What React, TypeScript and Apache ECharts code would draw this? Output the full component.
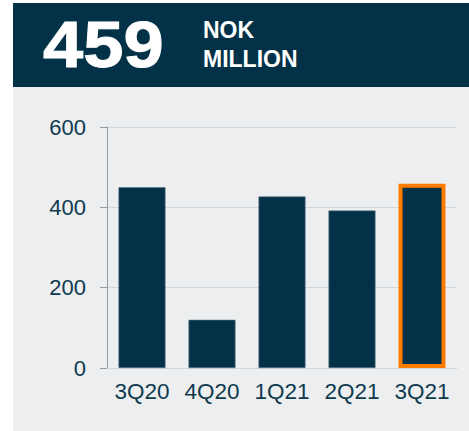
import React, { useEffect, useRef } from "react";
import * as echarts from "echarts";

const categories = ["3Q20", "4Q20", "1Q21", "2Q21", "3Q21"];
const values = [450, 120, 427, 392, 459];
const yTicks = { min: 0, max: 600, interval: 200 };
const headlineValue = "459";
const headlineUnit = ["NOK", "MILLION"];
const highlightIndex = 4;

export default function App() {
  const ref = useRef<HTMLDivElement>(null);
  useEffect(() => {
    if (!ref.current) return;
    const chart = echarts.init(ref.current, undefined, { renderer: "svg" });
    const dark = "#033248";
    chart.setOption({
      animation: false,
      backgroundColor: "#ffffff",
      graphic: [
        { type: "rect", z: -10, shape: { x: 13, y: 87, width: 456, height: 344 }, style: { fill: "#EDEEF0" } },
        { type: "rect", z: -10, shape: { x: 13, y: 3, width: 456, height: 84 }, style: { fill: dark } },
        {
          type: "text", x: 43, y: 12, scaleX: 1.13,
          style: { text: headlineValue, fill: "#fff", font: "bold 64px 'Liberation Sans', Arial, sans-serif", stroke: "#fff", lineWidth: 1 },
        },
        {
          type: "text", x: 203, y: 18,
          style: { text: headlineUnit[0], fill: "#fff", font: "bold 23px 'Liberation Sans', Arial, sans-serif" },
        },
        {
          type: "text", x: 203, y: 47,
          style: { text: headlineUnit[1], fill: "#fff", font: "bold 23px 'Liberation Sans', Arial, sans-serif" },
        },
      ],
      grid: { left: 107, right: 12, top: 127, bottom: 63, containLabel: false },
      xAxis: {
        type: "category",
        data: categories,
        axisLine: { show: true, lineStyle: { color: "#D3D6DA", width: 1 } },
        axisTick: { show: false },
        axisLabel: {
          interval: 0, hideOverlap: false,
          color: "#0F3A4E", fontSize: 22.5, margin: 12,
          fontFamily: "'Liberation Sans', Arial, sans-serif",
        },
      },
      yAxis: {
        type: "value",
        min: yTicks.min, max: yTicks.max, interval: yTicks.interval,
        axisLine: { show: true, lineStyle: { color: "#939CA6", width: 1 } },
        axisTick: { show: true, length: 7, lineStyle: { color: "#939CA6" } },
        splitLine: { show: true, lineStyle: { color: "#D3D6DA", width: 1 } },
        axisLabel: {
          color: "#0F3A4E", fontSize: 22, margin: 21,
          fontFamily: "'Liberation Sans', Arial, sans-serif",
        },
      },
      series: [
        {
          type: "bar",
          barWidth: 47,
          data: values.map((v, i) =>
            i === highlightIndex
              ? { value: v, itemStyle: { color: dark, borderColor: "#FF7B00", borderWidth: 4 } }
              : { value: v, itemStyle: { color: dark, borderColor: "#5A7382", borderWidth: 0.6 } }
          ),
        },
      ],
    });
    return () => chart.dispose();
  }, []);
  return (
    <div
      ref={ref}
      style={{ position: "fixed", left: 0, top: 0, width: 469, height: 431 }}
    />
  );
}
